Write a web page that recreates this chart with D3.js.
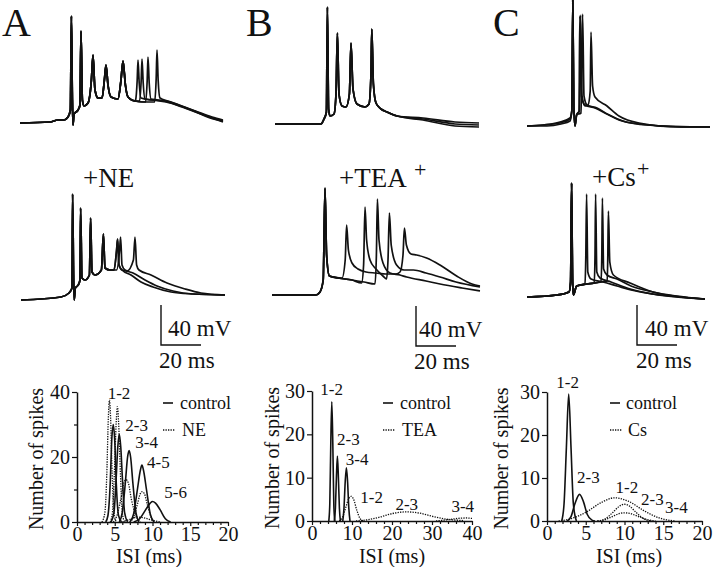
<!DOCTYPE html>
<html><head><meta charset="utf-8">
<script src="https://cdn.jsdelivr.net/npm/d3@7"></script>
<style>
body{margin:0;background:#fff;}
svg{display:block;font-family:"Liberation Serif","Times New Roman",serif;}
</style></head><body>
<svg id="c" width="720" height="567"></svg>
<script>
// ================= DATA =================
const panelLetters = ["A", "B", "C"];
const drugLabels = ["+NE", "+TEA", "+Cs"];
const drugSuperscripts = ["", "+", "+"];
const legendControl = "control";
const legendDrug = ["NE", "TEA", "Cs"];
const scaleBarMV = 40, scaleBarMS = 20;
const yAxisTitle = "Number of spikes";
const xAxisTitle = "ISI (ms)";

// Voltage traces: [time (ms), voltage relative to rest (mV)]
const traceA_ctrl_common = [[0,0],[15,1],[19,3],[22,3],[24,6],[25.2,13],[25.7,107],[26.2,23],[26.5,-2],[27,9],[29,13],[30,18],[30.5,92],[31.2,23],[32,17],[34,20],[35.7,43],[36.5,68],[37.5,33],[39,25],[41,25],[42.2,43],[43,58],[44,38],[45.5,26],[49,24],[50.5,43],[51.5,62],[52.7,38],[54,26],[57.5,22]];
const traceA_ctrl_tails = [
  [[57.8,23],[58.6,43],[59,63],[59.6,40],[60.5,25],[66,23],[73,21],[80,17],[88,11],[95,5],[101.5,2]],
  [[59.8,22],[60.6,43],[61,64],[61.6,40],[62.5,24],[67,23],[73,22],[80,17.5],[88,11.5],[95,6],[101.5,2]],
  [[62.8,21],[63.6,43],[64,66],[64.6,40],[65.5,24],[69,23],[74,21],[81,16],[89,10],[96,5],[101.5,1]],
  [[61,21],[67.3,21],[68.1,45],[68.5,73],[69.1,42],[70,25],[74,22],[81,17],[89,11],[96,6],[101.5,3]]
];
const traceA_drug_common = [[0,0],[20,3],[24,7],[25.5,12],[25.8,106],[26.3,25],[26.6,0],[27.2,12],[28.6,15],[29.5,20],[29.8,92],[30.5,22],[32,20],[34.2,25],[34.8,82],[35.5,28],[37,25],[40.2,30],[41.2,66],[42,32],[44.5,30]];
const traceA_drug_tails = [
  [[46.5,30],[47.8,50],[48.3,61],[49,35],[50.5,30],[53,29],[56.2,40],[57,63],[57.8,35],[59,30],[65,25],[73,17],[82,11],[90,7],[102,5]],
  [[47.8,30],[49.3,50],[49.8,63],[50.5,35],[52,30],[56,27],[62,20],[68,14],[76,9],[86,6],[102,5]],
  [[46.5,30],[47.8,50],[48.3,61],[49,35],[50.5,30],[55,25],[60,18],[66,13],[75,8],[86,6],[102,5]]
];
const traceB_ctrl_common = [[0,0],[23,0],[24.5,5],[25.7,12],[26.2,117],[26.8,15],[27.5,8],[29.5,10],[30.5,30],[31.2,91],[32,30],[33.5,18],[35.5,17],[37.2,30],[38,81],[39,35],[41,20],[45,17],[47,20],[48,50],[48.4,95],[49.2,40],[50.5,21],[53,15],[56,12],[61,8]];
const traceB_ctrl_tails = [
  [[74,6],[90,2],[102,1]],
  [[74,5],[90,0],[102,-1]],
  [[74,4],[90,-2],[102,-3]]
];
const traceB_drug_common = [[0,0],[22,0],[24,3],[25.6,15],[26.5,107],[27.3,40],[28.7,19]];
const traceB_drug_tails = [
  [[31,18],[35,17],[36.6,35],[37.3,70],[38.2,45],[40,32],[43,26],[47,23],[52,22],[57,21],[62,21],[64,23],[65.5,40],[66.2,67],[67.2,50],[69.5,41],[72.3,40],[77.3,37],[84,30],[92.3,19],[100,11],[104,9]],
  [[33,17],[40,15],[44.8,12],[45.8,30],[46.5,88],[47.3,55],[49,35],[52,26],[55.5,19],[57.3,16],[58,35],[58.7,82],[59.6,50],[62.3,30],[66,25],[70.7,25],[77,22],[84,18],[92,13],[104,8]],
  [[33,17],[40,15],[46,13],[51.5,11],[52.2,40],[52.7,96],[53.5,55],[55.5,32],[59,22],[64,20],[67.3,18],[77,14],[84,11],[95,7],[104,4]]
];
const traceC_ctrl_sweeps = [
  [[0,0],[8,1],[16.5,4],[21.5,8],[22.4,15],[22.9,126],[23.4,20],[24,0],[24.8,11],[26.2,15],[26.8,111],[27.5,30],[29,20],[30.5,21],[31.6,35],[32,94],[32.8,40],[34,29],[40,20],[46,10],[56,3],[77,-1],[91.5,-1]],
  [[0,0],[8,1],[16.5,3],[21.5,7],[22.4,15],[22.9,126],[23.4,20],[24,0],[24.8,11],[26,15],[26.4,110],[27.2,30],[29,21],[34,18],[40,12],[46,6],[56,2],[77,-1],[91.5,-1]],
  [[0,0],[10,0],[17,2],[21.5,5],[22.4,15],[22.9,126],[23.4,20],[24,0],[24.8,11],[27,13],[27.8,112],[28.5,30],[30,21],[35,18],[41,11],[48,5],[60,1],[91.5,-1]]
];
const traceC_drug_common = [[0,0],[15,2],[21,5],[21.8,15],[22.3,114],[22.8,15],[23.2,2],[24.8,11]];
const traceC_drug_tails = [
  [[29,13],[29.4,40],[29.8,103],[30.4,25],[32,18],[38,15],[45,11],[52,7],[63,3],[89,-2]],
  [[30,13],[33.6,14],[34,40],[34.3,103],[34.9,25],[36.5,19],[42,15],[50,9],[60,4],[89,-2]],
  [[30,13],[37,15],[37.4,40],[37.7,99],[38.3,28],[40,22],[45,18],[52,11],[63,5],[89,-2]],
  [[30,13],[37,15],[40.1,16],[40.4,40],[40.7,86],[41.4,35],[43.2,22],[51.5,14],[63,5],[89,-2]]
];

// ISI histograms: [ISI (ms), number of spikes]
const histA_control = [
  [[3.8,0],[4.1,2],[4.4,12],[4.6,25],[4.8,30],[5.0,25],[5.2,12],[5.5,2],[5.9,0]],
  [[4.5,0],[4.9,3],[5.2,14],[5.4,23],[5.6,27],[5.8,23],[6.0,14],[6.3,3],[6.7,0]],
  [[5.6,0],[6.0,3],[6.4,12],[6.7,20],[6.9,22],[7.1,20],[7.4,12],[7.8,3],[8.2,0]],
  [[7.0,0],[7.5,2.5],[8.0,10],[8.4,16],[8.6,17.5],[8.8,16],[9.2,10],[9.7,2.5],[10.2,0]],
  [[7.5,0],[8.3,1],[9.1,3.8],[9.7,5.8],[10.0,6.3],[10.4,5.8],[11,3.8],[11.7,1],[12.4,0]]
];
const histA_drug = [
  [[3.3,0],[3.7,3],[3.95,15],[4.15,32],[4.3,37.5],[4.45,32],[4.65,15],[4.9,3],[5.2,0]],
  [[4.4,0],[4.7,3],[4.95,15],[5.2,31],[5.35,35.5],[5.5,31],[5.75,15],[6.0,3],[6.3,0]],
  [[4.8,0],[5.3,2],[5.8,7],[6.2,12],[6.5,13],[6.8,12],[7.2,7],[7.8,2],[8.4,0]],
  [[7.0,0],[7.5,1.5],[8.0,5.5],[8.4,8.8],[8.6,9.3],[8.9,8.8],[9.3,5.5],[9.8,1.5],[10.3,0]],
  [[6,0],[7,0.8],[8,1.5],[9,1.2],[10,0.5],[11,0]]
];
const histB_control = [
  [[4.2,0],[4.45,4],[4.7,18],[4.95,27.5],[5.2,18],[5.45,4],[5.7,0]],
  [[5.6,0],[5.85,3],[6.1,10],[6.35,15],[6.6,10],[6.85,3],[7.1,0]],
  [[7.7,0],[8.0,3],[8.3,9],[8.6,12.3],[8.9,9],[9.2,3],[9.5,0]]
];
const histB_drug = [
  [[6.8,0],[7.6,0.8],[8.4,3],[9.2,5.2],[9.8,5.7],[10.4,5],[11.2,2.5],[12,0.6],[12.8,0]],
  [[11,0],[14,0.3],[17,0.9],[20,1.7],[23.5,2.1],[27,1.8],[30,1.1],[33,0.5],[36,0.2],[38,0.1]],
  [[31,0],[34,0.3],[36.5,0.6],[38.5,0.7],[40,0.6]]
];
const histC_control = [
  [[1.9,0],[2.2,4],[2.5,17],[2.8,29.5],[3.1,17],[3.4,4],[3.8,0]],
  [[2.6,0],[3.1,1],[3.6,4],[4.2,6.2],[4.7,4.5],[5.2,1.5],[5.8,0.2],[6.2,0]]
];
const histC_drug = [
  [[1.5,0],[3,0.5],[5,2],[7,4.3],[8.7,5.4],[10.5,4.6],[12.5,2.4],[14.5,0.7],[16.5,0]],
  [[6.5,0],[7.5,0.5],[8.5,2],[9.3,3.4],[10,3.9],[10.7,3.4],[11.5,2],[12.5,0.5],[13.5,0]],
  [[6.5,0],[7.5,0.3],[8.5,1.1],[9.3,1.7],[10,1.9],[10.8,1.7],[11.7,1.1],[12.8,0.4],[14,0]]
];
// Peak annotations: [label, ISI, count]
const peakLabelsA = [["1-2",5.56,39.7],["2-3",7.9,29.8],["3-4",9.23,24.7],["4-5",10.77,18.6],["5-6",13.07,9.3]];
const peakLabelsB = [["1-2",4.9,30.4],["2-3",9.1,18.9],["3-4",11.3,14.2],["1-2",14.9,5.6],["2-3",23.7,3.9],["3-4",37.7,3.5]];
const peakLabelsC = [["1-2",2.67,32.2],["2-3",5.33,10.2],["1-2",10.3,8.0],["2-3",13.6,5.0],["3-4",16.7,3.2]];

const xTicksA = [0,5,10,15,20], yTicksA = [0,20,40];
const xTicksB = [0,10,20,30,40], yTicksB = [0,10,20,30];
const xTicksC = [0,5,10,15,20], yTicksC = [0,10,20,30];

// ================= LAYOUT =================
const FONT = '"Liberation Serif","Times New Roman",serif';
const svg = d3.select("#c");
const INK = "#111";

const panels = [
  {letter:[2,36], top:[20,123], mid:[21,300], drugPos:[83,187], supPos:null,
   ctrlCommon:traceA_ctrl_common, ctrlTails:traceA_ctrl_tails, drugCommon:traceA_drug_common, drugTails:traceA_drug_tails,
   bar:[70,-45], barText:[7,-2],
   hist:{x:[77,228], y:[522,392], xd:[0,20], yd:[0,40], xt:xTicksA, yt:yTicksA, xMinorStep:1, yMinor:[10,30],
         ctrl:histA_control, drug:histA_drug, labels:peakLabelsA, leg:[86,180], ytitle:36, xtitle:149}},
  {letter:[246,36], top:[275,124], mid:[272,295], drugPos:[339,187], supPos:[414,177],
   ctrlCommon:traceB_ctrl_common, ctrlTails:traceB_ctrl_tails, drugCommon:traceB_drug_common, drugTails:traceB_drug_tails,
   bar:[72,-51], barText:[3,-2],
   hist:{x:[312,472], y:[521,391], xd:[0,40], yd:[0,30], xt:xTicksB, yt:yTicksB, xMinorStep:2, yMinor:[],
         ctrl:histB_control, drug:histB_drug, labels:peakLabelsB, leg:[71,400], ytitle:272, xtitle:392}},
  {letter:[493,36], top:[527,126], mid:[527,297], drugPos:[592,186], supPos:[637,176],
   ctrlCommon:null, ctrlTails:traceC_ctrl_sweeps, drugCommon:traceC_drug_common, drugTails:traceC_drug_tails,
   bar:[55,-48], barText:[8,-1],
   hist:{x:[547,702], y:[521,392], xd:[0,20], yd:[0,30], xt:xTicksC, yt:yTicksC, xMinorStep:1, yMinor:[],
         ctrl:histC_control, drug:histC_drug, labels:peakLabelsC, leg:[63,626], ytitle:501, xtitle:629}}
];

function traceScales(o){
  return {x:d3.scaleLinear().domain([0,100]).range([o[0],o[0]+200]),
          y:d3.scaleLinear().domain([0,100]).range([o[1],o[1]-100])};
}
function drawTraces(sc, common, tails){
  const ln = d3.line().x(d=>sc.x(d[0])).y(d=>sc.y(d[1])).curve(d3.curveMonotoneX);
  tails.forEach(t=>{
    const pts = common ? common.concat(t) : t;
    svg.append("path").attr("d", ln(pts)).attr("fill","none").attr("stroke",INK)
      .attr("stroke-width",1.7).attr("stroke-linejoin","round");
  });
}

panels.forEach((p,i)=>{
  svg.append("text").attr("x",p.letter[0]).attr("y",p.letter[1]).attr("font-size",40)
    .attr("font-family",FONT).attr("fill",INK).text(panelLetters[i]);
  const st = traceScales(p.top), sm = traceScales(p.mid);
  drawTraces(st, p.ctrlCommon, p.ctrlTails);
  drawTraces(sm, p.drugCommon, p.drugTails);
  svg.append("text").attr("x",p.drugPos[0]).attr("y",p.drugPos[1]).attr("font-size",27)
    .attr("font-family",FONT).attr("fill",INK).text(drugLabels[i]);
  if (p.supPos) svg.append("text").attr("x",p.supPos[0]).attr("y",p.supPos[1]).attr("font-size",22)
    .attr("font-family",FONT).attr("fill",INK).text(drugSuperscripts[i]);
  // scale bar
  const bx = sm.x(p.bar[0]), by = sm.y(p.bar[1]);
  const bx2 = sm.x(p.bar[0]+scaleBarMS), by2 = sm.y(p.bar[1]+scaleBarMV);
  svg.append("path").attr("d",`M${bx},${by2}V${by}H${bx2}`).attr("fill","none")
    .attr("stroke",INK).attr("stroke-width",1.4);
  svg.append("text").attr("x",bx+p.barText[0]).attr("y",by-9).attr("font-size",23)
    .attr("font-family",FONT).attr("fill",INK).text(scaleBarMV+" mV");
  svg.append("text").attr("x",bx+p.barText[1]).attr("y",by+23).attr("font-size",23)
    .attr("font-family",FONT).attr("fill",INK).text(scaleBarMS+" ms");

  // histogram
  const h = p.hist;
  const x = d3.scaleLinear().domain(h.xd).range(h.x);
  const y = d3.scaleLinear().domain(h.yd).range(h.y);
  const g = svg.append("g");
  const minors = d3.range(h.xd[0], h.xd[1]+0.001, h.xMinorStep).filter(v=>!h.xt.includes(v));
  g.append("g").attr("transform",`translate(0,${h.y[0]})`)
    .call(d3.axisBottom(x).tickValues(minors).tickSize(3).tickSizeOuter(0).tickFormat(""))
    .call(s=>s.select(".domain").remove());
  g.append("g").attr("transform",`translate(${h.x[0]},0)`)
    .call(d3.axisLeft(y).tickValues(h.yMinor).tickSize(3).tickSizeOuter(0).tickFormat(""))
    .call(s=>s.select(".domain").remove());
  g.append("g").attr("transform",`translate(0,${h.y[0]})`)
    .call(d3.axisBottom(x).tickValues(h.xt).tickSize(4).tickSizeOuter(0).tickPadding(1));
  g.append("g").attr("transform",`translate(${h.x[0]},0)`)
    .call(d3.axisLeft(y).tickValues(h.yt).tickSize(5).tickSizeOuter(0).tickPadding(2));
  g.selectAll(".domain").attr("stroke",INK).attr("stroke-width",1.5);
  g.selectAll(".tick line").attr("stroke",INK).attr("stroke-width",1.2);
  g.selectAll(".tick text").attr("font-family",FONT).attr("font-size",20).attr("fill",INK);
  svg.append("text").attr("transform",`translate(${h.ytitle},${(h.y[0]+h.y[1])/2+2}) rotate(-90)`)
    .attr("text-anchor","middle").attr("dy","0.35em").attr("font-size",20).attr("font-family",FONT)
    .attr("fill",INK).text(yAxisTitle);
  svg.append("text").attr("x",h.xtitle).attr("y",563).attr("text-anchor","middle")
    .attr("font-size",20).attr("font-family",FONT).attr("fill",INK).text(xAxisTitle);

  const hl = d3.line().x(d=>x(d[0])).y(d=>y(d[1])).curve(d3.curveMonotoneX);
  h.ctrl.forEach(c=>svg.append("path").attr("d",hl(c)).attr("fill","none").attr("stroke",INK).attr("stroke-width",1.6));
  h.drug.forEach(c=>svg.append("path").attr("d",hl(c)).attr("fill","none").attr("stroke",INK)
    .attr("stroke-width",1.3).attr("stroke-dasharray","1.3,1.2"));
  h.labels.forEach(l=>svg.append("text").attr("x",x(l[1])).attr("y",y(l[2])).attr("dy","0.35em")
    .attr("text-anchor","middle").attr("font-size",17).attr("font-family",FONT).attr("fill",INK).text(l[0]));
  // legend
  const lx = h.x[0]+h.leg[0];
  svg.append("line").attr("x1",lx).attr("x2",lx+10).attr("y1",403).attr("y2",403).attr("stroke",INK).attr("stroke-width",1.6);
  svg.append("line").attr("x1",lx).attr("x2",lx+12).attr("y1",430).attr("y2",430).attr("stroke",INK)
    .attr("stroke-width",1.3).attr("stroke-dasharray","1.3,1.2");
  svg.append("text").attr("x",h.leg[1]).attr("y",403).attr("dy","0.35em").attr("font-size",18)
    .attr("font-family",FONT).attr("fill",INK).text(legendControl);
  svg.append("text").attr("x",h.leg[1]+2).attr("y",430).attr("dy","0.35em").attr("font-size",18)
    .attr("font-family",FONT).attr("fill",INK).text(legendDrug[i]);
});
</script>
</body></html>
